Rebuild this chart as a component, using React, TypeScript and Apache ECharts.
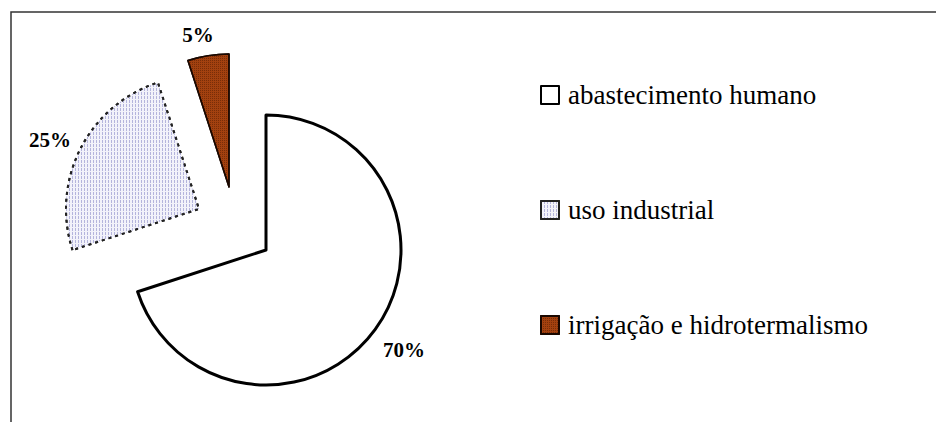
import React, { useEffect, useRef } from "react";
import * as echarts from "echarts";

const categories = ["abastecimento humano", "uso industrial", "irrigação e hidrotermalismo"];
const values = [70, 25, 5];

const SERIF = "Liberation Serif";

const sliceStyles: any[] = [
  { color: "#ffffff", borderColor: "#000000", borderWidth: 3 },
  {
    color: "#f2f2fa",
    borderColor: "#222222",
    borderWidth: 2,
    borderType: [3, 4],
    decal: {
      symbol: "rect",
      symbolSize: 1,
      color: "#b4b4dc",
      dashArrayX: [1, 2],
      dashArrayY: [3, 1],
      rotation: 0,
    },
  },
  {
    color: "#a3410f",
    borderColor: "#1a0800",
    borderWidth: 1.5,
    decal: {
      symbol: "rect",
      symbolSize: 1,
      color: "rgba(70,20,0,0.45)",
      dashArrayX: [1, 1],
      dashArrayY: [1, 1],
      rotation: 0,
    },
  },
];

const centers: [number, number][] = [
  [266, 250],
  [199, 209],
  [229, 187],
];
const radii = [135, 133, 133];
const labelPos = [
  { x: 404, y: 350 },
  { x: 50, y: 140 },
  { x: 198, y: 35 },
];

export default function App() {
  const ref = useRef<HTMLDivElement>(null);
  useEffect(() => {
    if (!ref.current) return;
    const chart = echarts.init(ref.current, null, { renderer: "svg" });
    const series = categories.map((_, i) => ({
      type: "pie",
      center: centers[i],
      radius: radii[i],
      startAngle: 90,
      clockwise: true,
      percentPrecision: 0,
      avoidLabelOverlap: false,
      emphasis: { disabled: true },
      labelLine: { show: false },
      labelLayout: { x: labelPos[i].x, y: labelPos[i].y, align: "center", verticalAlign: "middle" },
      data: values.map((v, j) =>
        j === i
          ? {
              name: categories[j],
              value: v,
              itemStyle: sliceStyles[j],
              label: {
                show: true,
                position: "inside",
                formatter: "{d}%",
                fontFamily: SERIF,
                fontWeight: "bold",
                fontSize: 21,
                color: "#000",
              },
            }
          : {
              name: "__f" + i + "_" + j,
              value: v,
              itemStyle: { color: "rgba(0,0,0,0)", borderWidth: 0 },
              label: { show: false },
            }
      ),
    }));
    chart.setOption({
      animation: false,
      textStyle: { fontFamily: SERIF },
      legend: {
        data: categories,
        orient: "vertical",
        left: 540,
        top: 81,
        padding: 0,
        itemWidth: 18,
        itemHeight: 18,
        itemGap: 87,
        icon: "rect",
        selectedMode: false,
        textStyle: {
          fontFamily: SERIF,
          fontSize: 27,
          lineHeight: 28,
          color: "#000",
          padding: [0, 0, 0, 4],
        },
      },
      graphic: [
        {
          type: "polyline",
          shape: { points: [[11, 422], [11, 12], [936, 12]] },
          style: { stroke: "#333333", lineWidth: 1.5, fill: "none" },
          silent: true,
        },
      ],
      series,
    });
    return () => chart.dispose();
  }, []);
  return (
    <div
      ref={ref}
      style={{ position: "absolute", left: 0, top: 0, width: 938, height: 423 }}
    />
  );
}
